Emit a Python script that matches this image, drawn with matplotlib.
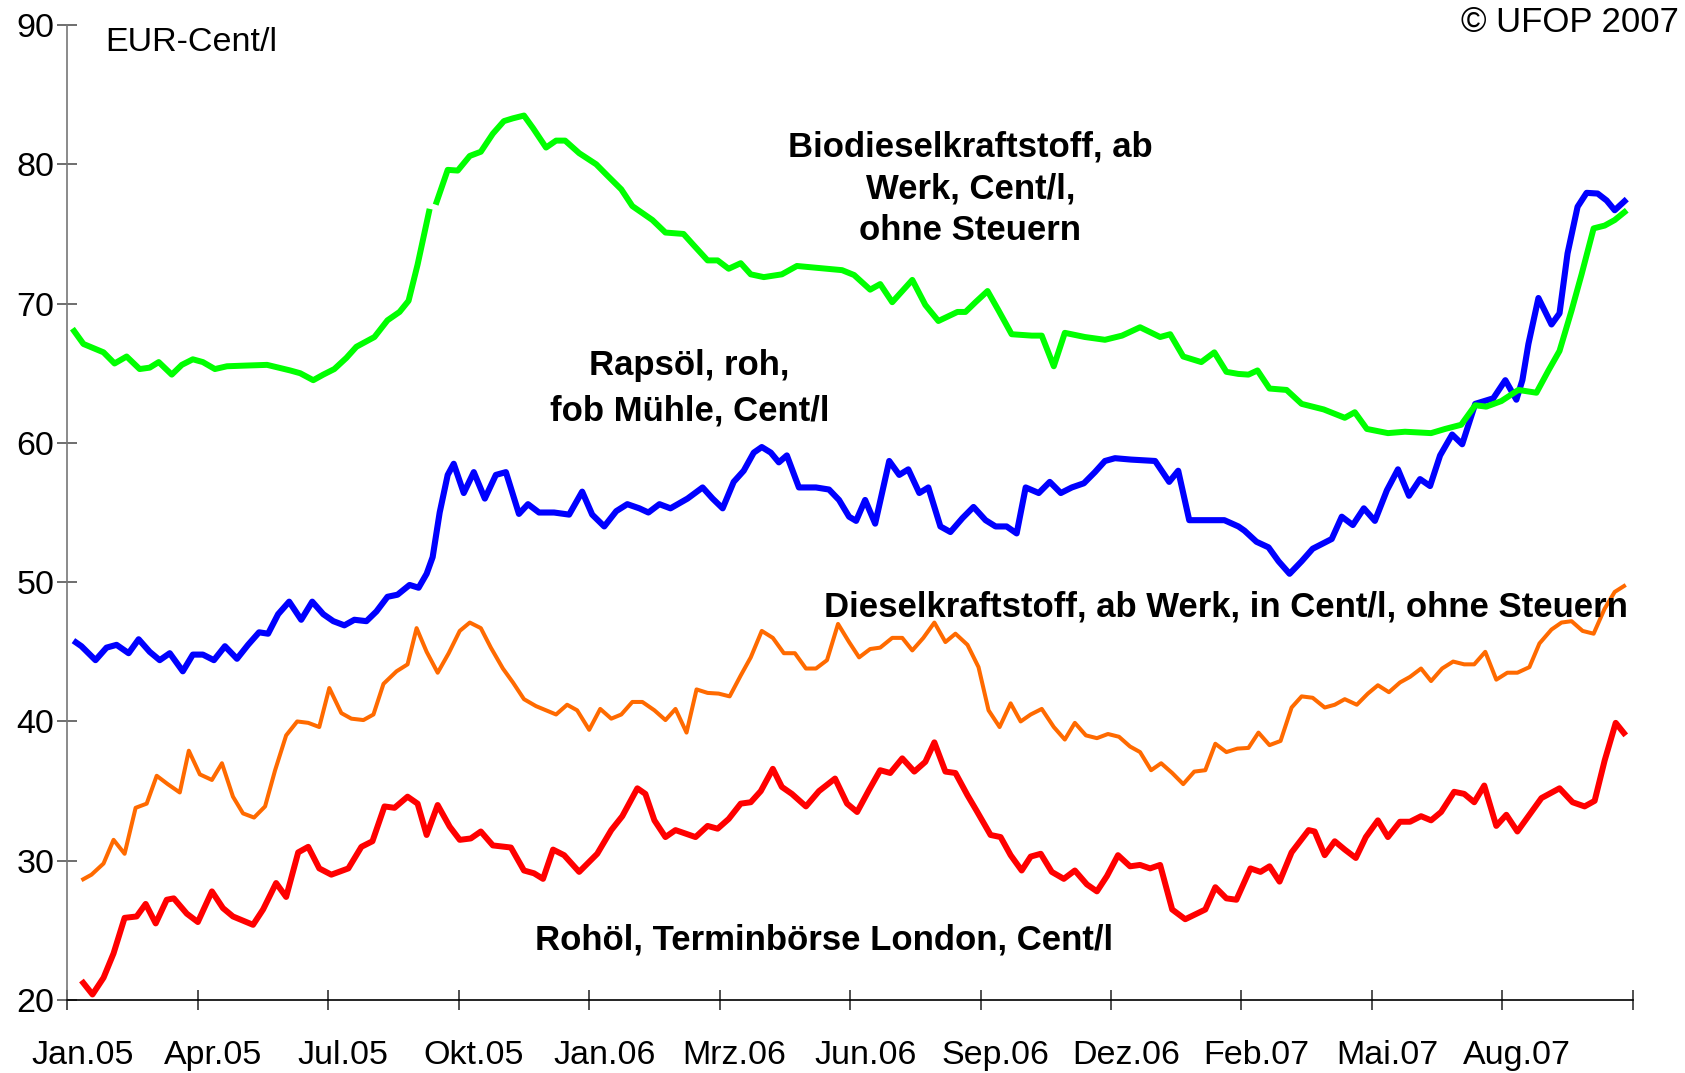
import matplotlib
matplotlib.use('Agg')
import numpy as np
import matplotlib.pyplot as plt

plt.rcParams['font.family'] = ['Liberation Sans', 'DejaVu Sans']

# x values are weeks counted from the first week of Jan.05
tick_labels = ['Jan.05', 'Apr.05', 'Jul.05', 'Okt.05', 'Jan.06', 'Mrz.06',
               'Jun.06', 'Sep.06', 'Dez.06', 'Feb.07', 'Mai.07', 'Aug.07']

# Biodieselkraftstoff (green), NaN = small break in the line
bio_wk = [0.5, 1.6, 2.6, 3.6, 4.7, 5.9, 7.2, 8.2, 9.1, 10.4, 11.4, 12.5, 13.5, 14.7,
          15.9, 17.8, 19.9, 22.2, 23.2, 24.5, 25.5, 26.6, 27.8, 28.8, 30.6, 31.9, 33.1,
          34.0, 34.9, 36.1, 36.4, 36.7, 37.9, 38.9, 40.1, 41.2, 42.4, 43.5, 44.4, 45.5,
          46.4, 47.7, 48.7, 49.6, 51.0, 52.7, 53.8, 55.2, 56.3, 58.3, 59.6, 61.4, 62.4,
          63.8, 64.8, 65.9, 67.1, 68.1, 69.4, 71.2, 72.7, 74.2, 77.2, 78.4, 80.0, 81.0,
          82.2, 84.2, 85.5, 86.8, 88.7, 89.5, 90.5, 91.7, 92.8, 94.1, 96.1, 97.1, 98.3,
          99.4, 101.4, 103.4, 105.1, 106.9, 108.9, 109.9, 111.2, 113.0, 114.3, 115.5,
          116.7, 117.7, 118.6, 119.8, 121.5, 123.0, 125.2, 127.3, 128.3, 129.5, 131.6,
          133.3, 135.9, 137.3, 138.9, 140.3, 141.4, 142.9, 144.6, 146.4, 147.6, 148.7,
          149.9, 150.9, 152.1, 153.2, 154.2, 155.4]
bio_val = [68.2, 67.1, 66.8, 66.5, 65.7, 66.2, 65.3, 65.4, 65.8, 64.9, 65.6, 66.0, 65.8, 65.3,
           65.5, 65.55, 65.6, 65.2, 65.0, 64.5, 64.9, 65.3, 66.1, 66.9, 67.6, 68.8, 69.4,
           70.2, 72.8, 76.8, np.nan, 77.1, 79.6, 79.55, 80.6, 80.9, 82.2, 83.1, 83.3, 83.5,
           82.6, 81.2, 81.7, 81.7, 80.8, 80.0, 79.2, 78.2, 77.0, 76.0, 75.1, 75.0, 74.2,
           73.1, 73.1, 72.5, 72.9, 72.1, 71.9, 72.1, 72.7, 72.6, 72.4, 72.05, 71.0, 71.4,
           70.1, 71.7, 69.9, 68.75, 69.4, 69.4, 70.1, 70.9, 69.5, 67.8, 67.7, 67.7, 65.5,
           67.9, 67.6, 67.4, 67.7, 68.3, 67.6, 67.8, 66.2, 65.8, 66.5, 65.1,
           64.95, 64.9, 65.2, 63.9, 63.8, 62.8, 62.4, 61.8, 62.2, 61.0, 60.7,
           60.8, 60.7, 61.0, 61.3, 62.7, 62.6, 63.0, 63.8, 63.6, 65.2, 66.6,
           69.5, 72.1, 75.4, 75.6, 76.0, 76.7]

# Rapsoel (blue)
raps_wk = [0.6, 1.4, 2.8, 3.9, 4.9, 6.1, 7.1, 8.2, 9.2, 10.2, 11.5, 12.5, 13.5, 14.6, 15.7,
           16.9, 18.0, 19.1, 20.0, 21.0, 22.1, 23.3, 24.4, 25.5, 26.5, 27.6, 28.6, 29.8,
           30.8, 31.9, 32.9, 34.1, 35.0, 35.8, 36.4, 37.1, 37.9, 38.5, 39.5, 40.5, 41.6,
           42.7, 43.7, 45.0, 45.9, 47.0, 48.5, 50.0, 51.3, 52.3, 53.5, 54.7, 55.8, 57.0,
           57.9, 59.0, 60.1, 61.8, 63.3, 64.3, 65.3, 66.4, 67.4, 68.4, 69.2, 70.1, 70.9,
           71.7, 72.9, 74.6, 75.9, 76.9, 77.9, 78.6, 79.5, 80.5, 81.9, 82.9, 83.8, 84.9,
           85.8, 87.0, 88.0, 89.2, 90.3, 91.5, 92.5, 93.6, 94.6, 95.5, 96.8, 97.9, 99.0,
           100.1, 101.3, 102.4, 103.4, 104.4, 106.0, 108.4, 109.8, 110.7, 111.8, 113.3,
           115.3, 116.7, 117.3, 118.5, 119.7, 120.7, 121.8, 123.0, 124.1, 126.0, 127.0,
           128.1, 129.2, 130.3, 131.5, 132.6, 133.7, 134.8, 135.8, 136.8, 138.0, 139.0,
           140.3, 142.1, 143.3, 144.4, 145.0, 145.6, 146.6, 147.9, 148.7, 149.5, 150.5,
           151.4, 152.5, 153.4, 154.2, 155.4]
raps_val = [45.8, 45.4, 44.4, 45.3, 45.5, 44.9, 45.9, 45.0, 44.4, 44.9, 43.6, 44.8, 44.8, 44.4, 45.4,
            44.5, 45.5, 46.4, 46.3, 47.7, 48.6, 47.3, 48.6, 47.7, 47.2, 46.9, 47.3, 47.2,
            47.9, 48.95, 49.1, 49.8, 49.6, 50.6, 51.8, 55.0, 57.7, 58.5, 56.4, 57.9, 56.0,
            57.7, 57.9, 54.9, 55.6, 55.0, 55.0, 54.85, 56.5, 54.85, 54.0, 55.1, 55.6, 55.3,
            55.0, 55.6, 55.3, 56.0, 56.8, 56.0, 55.3, 57.2, 58.0, 59.3, 59.7, 59.3, 58.6,
            59.1, 56.8, 56.8, 56.65, 55.9, 54.7, 54.4, 55.9, 54.2, 58.7, 57.7, 58.1, 56.4,
            56.8, 54.0, 53.6, 54.6, 55.4, 54.45, 54.0, 54.0, 53.5, 56.8, 56.4, 57.2, 56.4,
            56.8, 57.1, 57.9, 58.7, 58.9, 58.8, 58.7, 57.2, 58.0, 54.45, 54.45,
            54.45, 54.0, 53.7, 52.9, 52.5, 51.5, 50.6, 51.5, 52.4, 53.1, 54.7,
            54.1, 55.3, 54.4, 56.6, 58.1, 56.2, 57.4, 56.9, 59.1, 60.6, 59.9,
            62.8, 63.2, 64.5, 63.1, 64.5, 67.1, 70.4, 68.5, 69.3, 73.6, 76.95,
            77.95, 77.9, 77.4, 76.7, 77.5]

# Dieselkraftstoff (orange)
diesel_wk = [1.4, 2.4, 3.6, 4.6, 5.7, 6.8, 7.9, 8.9, 10.0, 11.2, 12.1, 13.2, 14.4, 15.4, 16.5,
             17.5, 18.6, 19.7, 20.7, 21.8, 22.9, 24.0, 25.1, 26.1, 27.3, 28.3, 29.5, 30.5,
             31.5, 32.8, 33.9, 34.8, 35.8, 36.9, 38.0, 39.1, 40.1, 41.2, 42.2, 43.4, 44.4,
             45.5, 46.7, 47.7, 48.7, 49.8, 50.8, 52.0, 53.1, 54.2, 55.2, 56.3, 57.3, 58.5,
             59.6, 60.6, 61.7, 62.7, 63.8, 64.9, 66.0, 67.1, 68.1, 69.2, 70.3, 71.4, 72.5,
             73.6, 74.6, 75.7, 76.8, 77.9, 78.9, 80.0, 81.0, 82.2, 83.2, 84.2, 85.3, 86.4,
             87.5, 88.5, 89.7, 90.8, 91.8, 92.9, 94.0, 95.0, 96.0, 97.1, 98.3, 99.4, 100.4,
             101.5, 102.6, 103.7, 104.8, 105.9, 106.9, 108.0, 109.0, 110.1, 111.2, 112.3,
             113.4, 114.4, 115.5, 116.6, 117.7, 118.7, 119.8, 120.9, 122.0, 123.0, 124.1,
             125.3, 126.3, 127.3, 128.5, 129.6, 130.6, 131.7, 132.8, 133.8, 134.9, 135.9,
             137.0, 138.1, 139.2, 140.2, 141.3, 142.4, 143.5, 144.5, 145.7, 146.7, 147.9,
             148.9, 149.9, 151.0, 152.1, 153.2, 154.2, 155.3]
diesel_val = [28.6, 29.0, 29.8, 31.5, 30.5, 33.8, 34.1, 36.1, 35.5, 34.9, 37.9, 36.2, 35.8, 37.0, 34.6,
              33.4, 33.1, 33.9, 36.5, 39.0, 40.0, 39.9, 39.6, 42.4, 40.6, 40.2, 40.1, 40.5,
              42.7, 43.6, 44.1, 46.7, 45.0, 43.5, 44.9, 46.5, 47.1, 46.7, 45.3, 43.8, 42.8,
              41.6, 41.1, 40.8, 40.5, 41.2, 40.8, 39.4, 40.9, 40.2, 40.5, 41.4, 41.4, 40.8,
              40.1, 40.9, 39.2, 42.3, 42.05, 42.0, 41.8, 43.3, 44.6, 46.5, 46.0, 44.9, 44.9,
              43.8, 43.8, 44.4, 47.0, 45.7, 44.6, 45.2, 45.3, 46.0, 46.0, 45.1, 46.0, 47.1,
              45.7, 46.3, 45.5, 43.9, 40.8, 39.6, 41.3, 40.0, 40.5, 40.9, 39.6, 38.7, 39.9,
              39.0, 38.8, 39.1, 38.9, 38.2, 37.8, 36.5, 37.0, 36.3, 35.5, 36.4,
              36.5, 38.4, 37.8, 38.05, 38.1, 39.2, 38.3, 38.6, 41.0, 41.8, 41.7,
              41.0, 41.2, 41.6, 41.2, 42.0, 42.6, 42.1, 42.8, 43.2, 43.8, 42.9,
              43.8, 44.3, 44.1, 44.1, 45.0, 43.0, 43.5, 43.5, 43.9, 45.6, 46.6,
              47.1, 47.2, 46.5, 46.3, 48.1, 49.3, 49.8]

# Rohoel (red)
crude_wk = [1.4, 2.5, 3.6, 4.6, 5.7, 6.9, 7.8, 8.8, 9.9, 10.6, 11.9, 13.0, 14.4, 15.5, 16.5,
            17.5, 18.5, 19.5, 20.8, 21.8, 23.0, 24.0, 25.1, 26.3, 28.0, 29.3, 30.4, 31.6,
            32.6, 33.9, 34.9, 35.8, 36.9, 38.1, 39.1, 40.2, 41.2, 42.4, 44.2, 45.5, 46.5,
            47.4, 48.4, 49.5, 51.0, 52.8, 54.2, 55.3, 56.8, 57.6, 58.5, 59.6, 60.6, 62.6,
            63.8, 64.8, 65.9, 67.1, 68.1, 69.1, 70.3, 71.2, 72.2, 73.6, 74.9, 76.5, 77.7,
            78.7, 79.9, 81.0, 82.0, 83.2, 84.4, 85.5, 86.4, 87.5, 88.5, 89.7, 90.6, 92.0,
            93.0, 94.0, 95.1, 96.0, 97.0, 98.1, 99.3, 100.4, 101.6, 102.6, 103.6, 104.7,
            105.9, 106.9, 107.9, 108.9, 110.1, 111.4, 113.4, 114.4, 115.5, 116.5, 117.9,
            118.9, 119.8, 120.8, 122.0, 123.7, 124.3, 125.3, 126.3, 127.3, 128.4, 129.4,
            130.6, 131.6, 132.8, 133.8, 134.9, 135.9, 136.9, 138.2, 139.2, 140.2, 141.2,
            142.4, 143.4, 144.5, 145.7, 146.9, 148.7, 150.0, 151.2, 152.2, 153.2, 154.3,
            155.3]
crude_val = [21.4, 20.4, 21.6, 23.35, 25.9, 26.0, 26.9, 25.5, 27.2, 27.3, 26.2, 25.6, 27.8, 26.6, 26.0,
             25.7, 25.4, 26.5, 28.4, 27.4, 30.6, 31.0, 29.45, 29.0, 29.45, 31.0, 31.4, 33.9,
             33.8, 34.6, 34.1, 31.85, 34.0, 32.45, 31.5, 31.6, 32.1, 31.1, 30.95, 29.3, 29.1,
             28.7, 30.8, 30.4, 29.2, 30.5, 32.2, 33.2, 35.2, 34.8, 32.9, 31.7, 32.2, 31.7,
             32.5, 32.3, 33.0, 34.1, 34.2, 35.0, 36.6, 35.3, 34.8, 33.9, 35.0, 35.9, 34.1,
             33.5, 35.1, 36.5, 36.3, 37.35, 36.4, 37.1, 38.5, 36.4, 36.3, 34.7, 33.6, 31.85,
             31.7, 30.4, 29.3, 30.3, 30.5, 29.2, 28.7, 29.3, 28.3, 27.8, 28.9, 30.4,
             29.6, 29.7, 29.45, 29.7, 26.5, 25.8, 26.5, 28.1, 27.3, 27.2, 29.45,
             29.2, 29.6, 28.5, 30.6, 32.2, 32.1, 30.4, 31.4, 30.8, 30.2, 31.7,
             32.9, 31.7, 32.8, 32.8, 33.2, 32.9, 33.5, 34.95, 34.8, 34.2, 35.4,
             32.5, 33.3, 32.1, 33.3, 34.5, 35.2, 34.2, 33.9, 34.3, 37.2, 39.9,
             39.0]

fig = plt.figure(figsize=(16.85, 10.73), dpi=100)
ax = fig.add_axes([0.040, 0.068, 0.929, 0.9087])

ax.plot(crude_wk, crude_val, color='#ff0000', lw=4.3, solid_joinstyle='round', solid_capstyle='butt')
ax.plot(diesel_wk, diesel_val, color='#ff6a00', lw=2.9, solid_joinstyle='round', solid_capstyle='butt')
ax.plot(raps_wk, raps_val, color='#0000ff', lw=4.4, solid_joinstyle='round', solid_capstyle='butt')
ax.plot(bio_wk, bio_val, color='#00ff00', lw=4.3, solid_joinstyle='round', solid_capstyle='butt')

ax.set_xlim(0, 156)
ax.set_ylim(20, 90)

for s in ['top', 'right']:
    ax.spines[s].set_visible(False)
ax.spines['left'].set_color('#777777')
ax.spines['left'].set_linewidth(1.2)
ax.spines['bottom'].set_color('black')
ax.spines['bottom'].set_linewidth(1.2)

ax.set_yticks(range(20, 91, 10))
ax.tick_params(axis='y', direction='inout', length=14.5, width=1.2, color='#555555',
               labelsize=24.5, pad=2)

# tick marks every 13 weeks, labels slightly right of each mark
ax.set_xticks(np.arange(0, 157, 13))
ax.set_xticklabels([])
ax.set_xticks(np.arange(0, 144, 13) + 1.5, minor=True)
ax.set_xticklabels(tick_labels, minor=True)
ax.tick_params(axis='x', which='major', direction='inout', length=15, width=1.2, color='#333333')
ax.tick_params(axis='x', which='minor', length=0, labelsize=24.5, pad=28.5)

ax.text(0.0243, 0.9738, 'EUR-Cent/l', transform=ax.transAxes, fontsize=24.5, va='baseline')
fig.text(0.9965, 0.9702, '\u00a9 UFOP 2007', fontsize=25, ha='right', va='baseline')

ax.text(90.0, 78.25, 'Biodieselkraftstoff, ab\nWerk, Cent/l,\nohne Steuern',
        fontsize=25, fontweight='bold', ha='center', va='center', multialignment='center',
        linespacing=1.33)
ax.text(62.0, 63.9, 'Raps\u00f6l, roh,\nfob M\u00fchle, Cent/l',
        fontsize=25, fontweight='bold', ha='center', va='center', multialignment='center',
        linespacing=1.48)
ax.text(75.4, 48.2, 'Dieselkraftstoff, ab Werk, in Cent/l, ohne Steuern',
        fontsize=25, fontweight='bold', ha='left', va='center')
ax.text(75.4, 24.3, 'Roh\u00f6l, Terminb\u00f6rse London, Cent/l',
        fontsize=25, fontweight='bold', ha='center', va='center')

fig.savefig('out.png', dpi=100, facecolor='white')
